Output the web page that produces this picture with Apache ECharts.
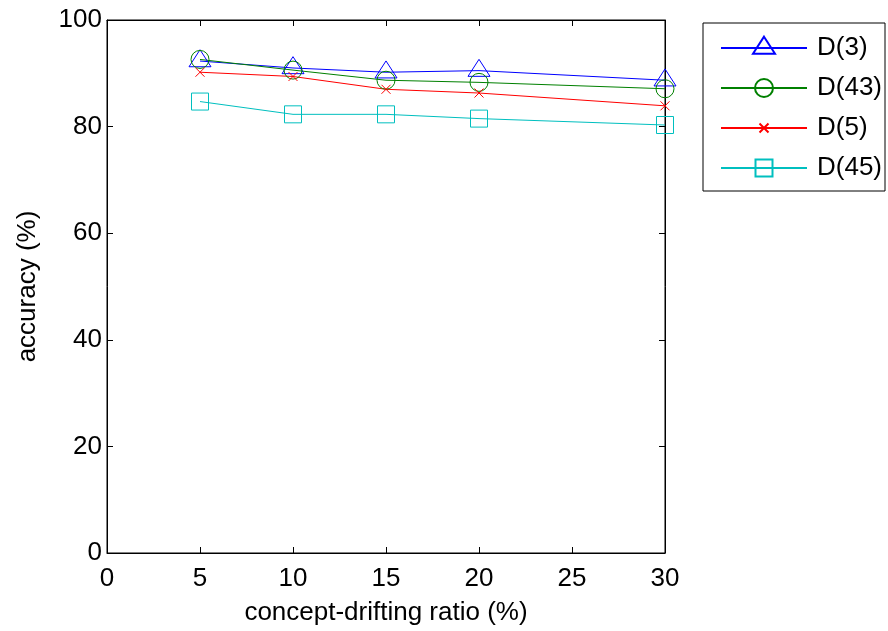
<!DOCTYPE html>
<html>
<head>
<meta charset="utf-8">
<script src="https://cdn.jsdelivr.net/npm/echarts@6/dist/echarts.min.js"></script>
<style>
html,body{margin:0;padding:0;background:#fff;}
#c{width:888px;height:631px;}
</style>
</head>
<body>
<div id="c"></div>
<script>
const ratios = [5, 10, 15, 20, 30];
const seriesNames = ['D(3)', 'D(43)', 'D(5)', 'D(45)'];
const d3 = [92.3, 91.0, 90.2, 90.5, 88.7];
const d43 = [92.6, 90.6, 88.7, 88.3, 87.1];
const d5 = [90.2, 89.4, 87.0, 86.3, 83.9];
const d45 = [84.7, 82.3, 82.3, 81.5, 80.3];
const xTicks = [0, 5, 10, 15, 20, 25, 30];
const yTicks = [0, 20, 40, 60, 80, 100];

const FONT = '"Liberation Sans", Arial, sans-serif';
const FS = 26;
const colors = ['#0000ff', '#008000', '#ff0000', '#00bfbf'];
const symbols = [
  'path://M0,0M24,24M12,0.7L23,17.7L1,17.7Z',
  'path://M0,0M24,24M21,12A9,9,0,1,1,3,12A9,9,0,1,1,21,12Z',
  'path://M0,0M24,24M7.5,7.5L16.5,16.5M16.5,7.5L7.5,16.5',
  'path://M0,0M24,24M3.5,3.5L20.5,3.5L20.5,20.5L3.5,20.5Z'
];
const values = [d3, d43, d5, d45];

const chart = echarts.init(document.getElementById('c'), null, {renderer: 'canvas'});

const series = seriesNames.map((name, i) => ({
  name: name,
  type: 'line',
  xAxisIndex: 0,
  yAxisIndex: 0,
  data: ratios.map((x, j) => [x, values[i][j]]),
  symbol: symbols[i],
  symbolSize: 24,
  showAllSymbol: true,
  animation: false,
  lineStyle: {color: colors[i], width: 1},
  itemStyle: {color: 'rgba(0,0,0,0)', borderColor: colors[i], borderWidth: 1},
  emphasis: {disabled: true}
}));

function axLine() { return {show: true, onZero: false, lineStyle: {color: '#000', width: 1}}; }
function tick() { return {show: true, inside: true, length: 6, lineStyle: {color: '#000', width: 1}}; }

chart.setOption({
  backgroundColor: '#fff',
  animation: false,
  grid: {left: 107, top: 20, right: 223, bottom: 77, show: true, borderColor: '#000', borderWidth: 1, backgroundColor: 'transparent'},
  legend: {
    orient: 'vertical',
    left: 703,
    top: 23,
    data: seriesNames,
    itemWidth: 86,
    itemHeight: 30,
    itemGap: 10,
    padding: [10, 3, 8, 17],
    borderColor: '#000',
    borderWidth: 1,
    backgroundColor: '#fff',
    selectedMode: false,
    textStyle: {fontFamily: FONT, fontSize: FS, color: '#000', padding: [0, 0, 0, 5], lineHeight: 30}
  },
  xAxis: [
    {
      type: 'value', min: 0, max: 30, interval: 5,
      position: 'bottom',
      name: 'concept-drifting ratio (%)', nameLocation: 'middle', nameGap: 47,
      nameTextStyle: {fontFamily: FONT, fontSize: FS, color: '#000'},
      axisLine: axLine(), axisTick: tick(),
      axisLabel: {fontFamily: FONT, fontSize: FS, color: '#000', margin: 13,
        formatter: v => xTicks.indexOf(v) >= 0 ? String(v) : ''},
      splitLine: {show: false}
    },
    {
      type: 'value', min: 0, max: 30, interval: 5, position: 'top',
      axisLine: axLine(), axisTick: tick(), axisLabel: {show: false}, splitLine: {show: false}
    }
  ],
  yAxis: [
    {
      type: 'value', min: 0, max: 100, interval: 20,
      position: 'left',
      name: 'accuracy (%)', nameLocation: 'middle', nameGap: 66, nameRotate: 90,
      nameTextStyle: {fontFamily: FONT, fontSize: FS, color: '#000'},
      axisLine: axLine(), axisTick: tick(),
      axisLabel: {fontFamily: FONT, fontSize: FS, color: '#000', margin: 5,
        formatter: v => yTicks.indexOf(v) >= 0 ? String(v) : ''},
      splitLine: {show: false}
    },
    {
      type: 'value', min: 0, max: 100, interval: 20, position: 'right',
      axisLine: axLine(), axisTick: tick(), axisLabel: {show: false}, splitLine: {show: false}
    }
  ],
  series: series
});
</script>
</body>
</html>
